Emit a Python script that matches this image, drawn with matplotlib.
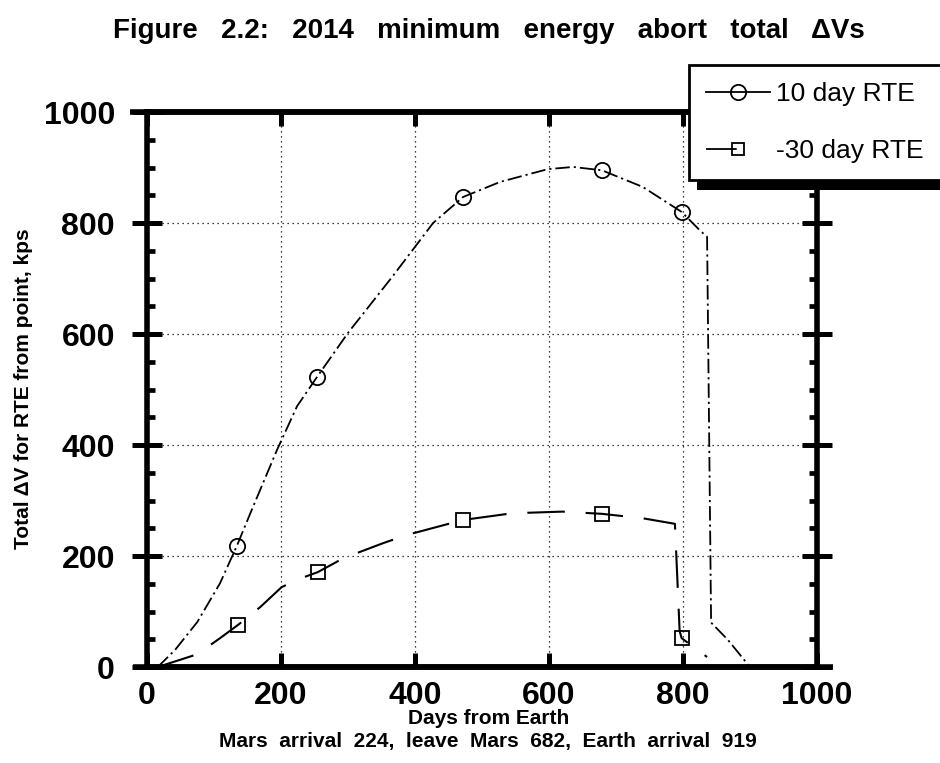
import numpy as np
import matplotlib
matplotlib.use("Agg")
import matplotlib.pyplot as plt
from matplotlib.lines import Line2D
from matplotlib.patches import Rectangle
from matplotlib.ticker import MultipleLocator

plt.rcParams['font.family'] = ['Liberation Sans', 'DejaVu Sans']

# ------------------ data -----------------------------------------------------

# 10 day RTE curve (days from Earth, total dV)
day10_x = [16, 42, 75, 109, 134, 158, 194, 224, 254, 300, 366, 400, 427, 472,
           527, 598, 636, 679, 740, 798, 825, 836, 842, 867, 900]
day10_y = [0, 31, 81, 151, 218, 288, 391, 470, 523, 602, 703, 757, 800, 847,
           874, 897, 901, 895, 865, 820, 787, 775, 80, 49, 0]
circ_x = [134, 254, 472, 679, 798]
circ_y = [218, 523, 847, 895, 820]

# 30 day RTE curve
day30_x = [16, 75, 109, 136, 169, 201, 230, 255, 293, 352, 388, 472, 545,
           620, 679, 740, 788, 795, 798, 836]
day30_y = [0, 23, 52, 76, 108, 144, 160, 171, 196, 223, 238, 265, 277,
           280, 276, 268, 258, 65, 52, 18]
sq_x = [136, 255, 472, 679, 798]
sq_y = [76, 171, 265, 276, 52]

ticks = [0, 200, 400, 600, 800, 1000]

# ------------------ figure ---------------------------------------------------

fig = plt.figure(figsize=(9.4, 7.63), dpi=100)
ax = fig.add_axes([0.1564, 0.1258, 0.7127, 0.7274])

ax.plot(day10_x, day10_y, color='k', lw=1.3, dashes=(8, 2.2, 1.2, 2.2))
ax.plot(circ_x, circ_y, ls='none', marker='o', ms=11, mfc='none', mec='k', mew=1.3)
ax.plot(day30_x, day30_y, color='k', lw=1.5, dashes=(18, 10))
ax.plot(sq_x, sq_y, ls='none', marker='s', ms=9.5, mfc='none', mec='k', mew=1.3)

ax.set_xlim(0, 1000)
ax.set_ylim(0, 1000)
ax.set_xticks(ticks)
ax.set_yticks(ticks)
ax.yaxis.set_minor_locator(MultipleLocator(50))
ax.grid(True, which='major', color='k', lw=0.9, ls=(0, (1, 3)))

for s in ax.spines.values():
    s.set_linewidth(4)
# axis lines run a little past the corners
ax.plot([-0.021, 1.024], [0, 0], transform=ax.transAxes, color='k', lw=4,
        clip_on=False, solid_capstyle='butt')
ax.plot([-0.025, 1.02], [1, 1], transform=ax.transAxes, color='k', lw=4,
        clip_on=False, solid_capstyle='butt')

ax.tick_params(axis='y', which='major', direction='inout', length=22, width=3.6,
               left=True, right=True, labelsize=23, pad=12)
ax.tick_params(axis='y', which='minor', direction='in', length=6, width=3.4,
               left=True, right=True)
ax.tick_params(axis='x', which='major', direction='in', length=10, width=3.6,
               top=True, bottom=True, labelsize=23, pad=10)
for lab in ax.get_xticklabels() + ax.get_yticklabels():
    lab.set_fontweight('bold')

fig.text(0.5194, 1 - 718 / 763, 'Days from Earth', ha='center', va='center',
         fontsize=15, fontweight='bold')
fig.text(0.5194, 1 - 742 / 763,
         'Mars  arrival  224,  leave  Mars  682,  Earth  arrival  919',
         ha='center', va='center', fontsize=15, fontweight='bold')
fig.text(0.025, 0.49, 'Total \u0394V for RTE from point, kps', rotation=90,
         ha='center', va='center', fontsize=15, fontweight='bold')
fig.text(0.52, 0.96, 'Figure   2.2:   2014   minimum   energy   abort   total   \u0394Vs',
         ha='center', va='center', fontsize=20, fontweight='bold')

# legend with a solid drop shadow
h10 = Line2D([], [], color='k', lw=1.3, marker='o', ms=11, mfc='none', mew=1.3)
h30 = Line2D([], [], color='k', lw=1.3, marker='s', ms=9, mfc='none', mew=1.3,
             dashes=(17, 100))
leg = fig.legend([h10, h30], ['10 day RTE', '-30 day RTE'], loc='upper left',
                 bbox_to_anchor=(0.733, 0.915), borderaxespad=0, fontsize=19,
                 handlelength=2.4, handletextpad=0.25, borderpad=0.65,
                 labelspacing=1.25, fancybox=False, framealpha=1,
                 edgecolor='k')
leg.get_frame().set_linewidth(2)
fig.canvas.draw()
bb = leg.get_window_extent().transformed(fig.transFigure.inverted())
fig.add_artist(Rectangle((bb.x0 + 8 / 940, bb.y0 - 10 / 763), bb.width, bb.height,
                         transform=fig.transFigure, facecolor='k',
                         edgecolor='none', zorder=4.9))

fig.savefig('out.png', dpi=100)
